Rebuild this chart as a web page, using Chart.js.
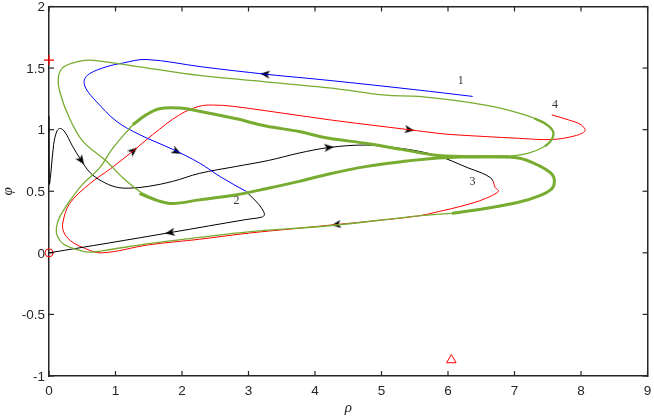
<!DOCTYPE html>
<html>
<head>
<meta charset="utf-8">
<script src="https://cdn.jsdelivr.net/npm/chart.js@4.4.0/dist/chart.umd.min.js"></script>
<style>
  html, body { margin: 0; padding: 0; background: #fff; }
</style>
</head>
<body>
<canvas id="phase" width="654" height="416"></canvas>
<script>
(function () {
  "use strict";

  // axis ticks
  const xTicks = [0, 1, 2, 3, 4, 5, 6, 7, 8, 9];
  const yTicks = [-1, -0.5, 0, 0.5, 1, 1.5, 2];

  // trajectory 1 (blue)
  const blueX = [6.37, 5.5, 4.21, 3.26, 2.3, 1.46, 1.1, 0.86, 0.61, 0.53, 0.56, 0.71, 1.01, 1.36, 1.86, 2.26, 2.6, 2.96];
  const blueY = [1.27, 1.325, 1.40, 1.45, 1.51, 1.57, 1.54, 1.51, 1.455, 1.40, 1.33, 1.23, 1.07, 0.96, 0.84, 0.73, 0.61, 0.50];

  // black: continuation of 1 into the origin
  const blackAX = [2.96, 3.11, 3.2, 3.24, 3.2, 2.96, 1.83, 0.9, 0];
  const blackAY = [0.50, 0.42, 0.36, 0.31, 0.29, 0.27, 0.165, 0.08, 0];

  // black: trajectory leaving the phi axis
  const blackBX = [0, 0.005, 0.03, 0.07, 0.12, 0.17, 0.24, 0.35, 0.48, 0.62, 0.8, 1.0, 1.2, 1.5, 1.86, 2.26, 2.8, 3.3, 3.76, 4.21, 4.76, 5.26, 5.56, 5.86, 6.06, 6.3, 6.5, 6.64, 6.68];
  const blackBY = [1.11, 0.56, 0.66, 0.88, 0.99, 1.01, 0.98, 0.87, 0.755, 0.65, 0.58, 0.535, 0.525, 0.54, 0.58, 0.645, 0.70, 0.75, 0.81, 0.855, 0.875, 0.85, 0.825, 0.785, 0.745, 0.69, 0.65, 0.61, 0.58];

  // red: continuation of the black one, ends at label 4
  const redX = [6.68, 6.71, 6.76, 6.56, 6.21, 5.86, 5.56, 4.8, 4.33, 3.76, 3.0, 2.26, 1.5, 0.79, 0.5, 0.32, 0.22, 0.21, 0.31, 0.61, 0.93, 1.26, 1.56, 1.96, 2.26, 2.46, 2.76, 3.76, 4.36, 5.41, 5.86, 6.06, 7.06, 7.56, 7.91, 8.06, 8.0, 7.81, 7.56];
  const redY = [0.58, 0.53, 0.50, 0.44, 0.38, 0.335, 0.30, 0.255, 0.23, 0.20, 0.16, 0.11, 0.065, 0.0, 0.045, 0.10, 0.17, 0.25, 0.40, 0.56, 0.685, 0.825, 0.96, 1.12, 1.19, 1.20, 1.19, 1.115, 1.07, 1.00, 0.97, 0.96, 0.93, 0.92, 0.95, 0.99, 1.04, 1.08, 1.12];

  // green, thin: descending branch, top arc and upper lobe
  const greenAX = [1.66, 1.36, 1.11, 0.86, 0.51, 0.31, 0.16, 0.14, 0.2, 0.35, 0.61, 1.36, 2.26, 4.21, 5.06, 5.56, 6.56, 7.16, 7.46, 7.58, 7.56, 7.46, 7.21, 6.91, 6.56];
  const greenAY = [0.42, 0.50, 0.61, 0.745, 0.905, 1.09, 1.31, 1.42, 1.50, 1.54, 1.565, 1.51, 1.44, 1.34, 1.28, 1.27, 1.20, 1.12, 1.05, 0.986, 0.92, 0.865, 0.81, 0.785, 0.78];

  // green, thick: lower strand and lower lobe
  const greenBX = [1.36, 1.66, 1.86, 2.26, 2.8, 3.26, 3.76, 4.21, 4.76, 5.3, 5.86, 6.56, 7.06, 7.36, 7.56, 7.6, 7.56, 7.36, 7.06, 6.56, 6.06];
  const greenBY = [0.48, 0.42, 0.40, 0.43, 0.47, 0.52, 0.58, 0.64, 0.70, 0.74, 0.77, 0.78, 0.77, 0.71, 0.64, 0.58, 0.52, 0.46, 0.41, 0.36, 0.32];

  // green, thick: upper strand, and the thicker right edge of the upper lobe
  const greenCX = [1.26, 1.46, 1.66, 1.96, 2.26, 2.8, 3.26, 3.76, 4.21, 4.76, 5.3, 5.86, 6.56, 6.91];
  const greenCY = [1.04, 1.12, 1.17, 1.175, 1.15, 1.09, 1.03, 0.985, 0.93, 0.89, 0.84, 0.79, 0.78, 0.78];
  const greenEX = [7.3, 7.46, 7.58, 7.56, 7.46];
  const greenEY = [1.09, 1.05, 0.986, 0.92, 0.865];

  // green, thin: bottom return and ascending branch
  const greenDX = [6.06, 5.56, 4.21, 3.0, 2.26, 1.5, 0.9, 0.61, 0.4, 0.22, 0.13, 0.11, 0.16, 0.31, 0.51, 0.76, 0.96, 1.26];
  const greenDY = [0.32, 0.30, 0.22, 0.17, 0.125, 0.075, 0.025, 0.005, 0.03, 0.07, 0.13, 0.2, 0.29, 0.42, 0.56, 0.69, 0.85, 1.04];

  // arrow heads: position and a point a little further along the curve
  const arrowX = [3.26, 1.91, 0.48, 4.2, 1.83, 1.26, 5.41, 4.33];
  const arrowY = [1.45, 0.825, 0.755, 0.855, 0.165, 0.825, 1.00, 0.23];
  const arrowToX = [3.0, 2.0, 0.55, 4.4, 1.6, 1.4, 5.6, 4.1];
  const arrowToY = [1.465, 0.80, 0.70, 0.865, 0.145, 0.89, 0.985, 0.215];

  // trajectory labels
  const labelText = ["1", "2", "3", "4"];
  const labelX = [6.19, 2.82, 6.37, 7.61];
  const labelY = [1.40, 0.42, 0.58, 1.20];

  // equilibrium markers
  const plusPt = [{ x: 0, y: 1.565 }];
  const circlePt = [{ x: 0, y: 0 }];
  const trianglePt = [{ x: 6.05, y: -0.87 }];

  const X_MIN = 0, X_MAX = 9, Y_MIN = -1, Y_MAX = 2;
  const AXIS = "#262626";
  const GREEN = "#77ac30";
  const SANS = "'Liberation Sans', Arial, sans-serif";
  const SERIF = "'Liberation Serif', 'Times New Roman', serif";

  function pts(xs, ys) {
    return xs.map((x, i) => ({ x: x, y: ys[i] }));
  }

  function curve(xs, ys, color, width) {
    return {
      data: pts(xs, ys),
      showLine: true,
      borderColor: color,
      borderWidth: width,
      pointRadius: 0,
      tension: 0.35,
      clip: false
    };
  }

  // inward tick marks as short dashes on the frame
  function tickSet(data, rotation) {
    return {
      data: data,
      pointStyle: "dash",
      pointRadius: 5,
      pointRotation: rotation,
      borderColor: AXIS,
      borderWidth: 1.2,
      clip: false
    };
  }

  function arrowImage() {
    const c = document.createElement("canvas");
    c.width = 14;
    c.height = 14;
    const g = c.getContext("2d");
    g.fillStyle = "#000";
    g.beginPath();
    g.moveTo(12.5, 7);
    g.lineTo(3, 3);
    g.lineTo(5.5, 7);
    g.lineTo(3, 11);
    g.closePath();
    g.fill();
    return c;
  }

  const arrowHead = arrowImage();

  // frame axis: only its border line is shown
  function frameAxis(position, axis, min, max, size) {
    return {
      type: "linear",
      position: position,
      axis: axis,
      min: min,
      max: max,
      grid: { display: false, drawTicks: false },
      border: { display: true, color: AXIS, width: 1.5 },
      ticks: { display: false },
      afterFit: (s) => {
        if (axis === "x") { s.height = size; } else { s.width = size; }
        s.paddingTop = 0; s.paddingBottom = 0; s.paddingLeft = 0; s.paddingRight = 0;
      }
    };
  }

  // texts: tick labels, axis titles, trajectory numbers
  const textPlugin = {
    id: "texts",
    afterDraw(chart) {
      const ctx = chart.ctx;
      const sx = chart.scales.x, sy = chart.scales.y;
      const L = sx.getPixelForValue(X_MIN), R = sx.getPixelForValue(X_MAX);
      const T = sy.getPixelForValue(Y_MAX), B = sy.getPixelForValue(Y_MIN);
      ctx.save();
      ctx.fillStyle = AXIS;
      ctx.font = "13.5px " + SANS;
      ctx.textAlign = "center";
      ctx.textBaseline = "alphabetic";
      for (const v of xTicks) {
        ctx.fillText(String(v), sx.getPixelForValue(v), B + 19);
      }
      ctx.textAlign = "right";
      ctx.textBaseline = "middle";
      for (const v of yTicks) {
        ctx.fillText(String(v), L - 4, sy.getPixelForValue(v) + 1);
      }

      ctx.font = "italic 15px " + SERIF;
      ctx.textAlign = "center";
      ctx.fillText("ρ", (L + R) / 2, 408);
      ctx.save();
      ctx.translate(8, (T + B) / 2);
      ctx.rotate(-Math.PI / 2);
      ctx.fillText("φ", 0, 0);
      ctx.restore();

      ctx.fillStyle = "#333";
      ctx.font = "12px " + SERIF;
      labelText.forEach((t, i) => {
        ctx.fillText(t, sx.getPixelForValue(labelX[i]), sy.getPixelForValue(labelY[i]));
      });
      ctx.restore();
    }
  };

  new Chart(document.getElementById("phase"), {
    type: "scatter",
    data: {
      datasets: [
        curve(greenDX, greenDY, GREEN, 1.3),
        curve(greenAX, greenAY, GREEN, 1.3),
        curve(greenEX, greenEY, GREEN, 2.2),
        curve(greenBX, greenBY, GREEN, 3),
        curve(greenCX, greenCY, GREEN, 3),
        curve(blueX, blueY, "#0000ff", 1),
        curve(blackAX, blackAY, "#000000", 1),
        curve(blackBX, blackBY, "#000000", 1),
        curve(redX, redY, "#ff0000", 1),
        {
          data: pts(arrowX, arrowY),
          pointStyle: arrowHead,
          pointRadius: 5,
          pointRotation: (c) => {
            const sx = c.chart.scales.x, sy = c.chart.scales.y, i = c.dataIndex;
            const dx = sx.getPixelForValue(arrowToX[i]) - sx.getPixelForValue(arrowX[i]);
            const dy = sy.getPixelForValue(arrowToY[i]) - sy.getPixelForValue(arrowY[i]);
            return Math.atan2(dy, dx) * 180 / Math.PI;
          },
          clip: false
        },
        { data: plusPt, pointStyle: "cross", pointRadius: 5, borderColor: "#ff0000", borderWidth: 1.2, clip: false },
        { data: circlePt, pointStyle: "circle", pointRadius: 4, borderColor: "#ff0000", backgroundColor: "rgba(0,0,0,0)", borderWidth: 1, clip: false },
        { data: trianglePt, pointStyle: "triangle", pointRadius: 5.5, borderColor: "#ff0000", backgroundColor: "rgba(0,0,0,0)", borderWidth: 1, clip: false },
        tickSet(xTicks.map(v => ({ x: v, y: Y_MIN })), -90),
        tickSet(xTicks.map(v => ({ x: v, y: Y_MAX })), 90),
        tickSet(yTicks.map(v => ({ x: X_MIN, y: v })), 0),
        tickSet(yTicks.map(v => ({ x: X_MAX, y: v })), 180)
      ]
    },
    options: {
      responsive: false,
      animation: false,
      events: [],
      layout: { padding: 0 },
      plugins: { legend: { display: false }, tooltip: { enabled: false } },
      scales: {
        x: frameAxis("bottom", "x", X_MIN, X_MAX, 40),
        x2: frameAxis("top", "x", X_MIN, X_MAX, 5),
        y: frameAxis("left", "y", Y_MIN, Y_MAX, 49),
        y2: frameAxis("right", "y", Y_MIN, Y_MAX, 4)
      }
    },
    plugins: [textPlugin]
  });
})();
</script>
</body>
</html>
